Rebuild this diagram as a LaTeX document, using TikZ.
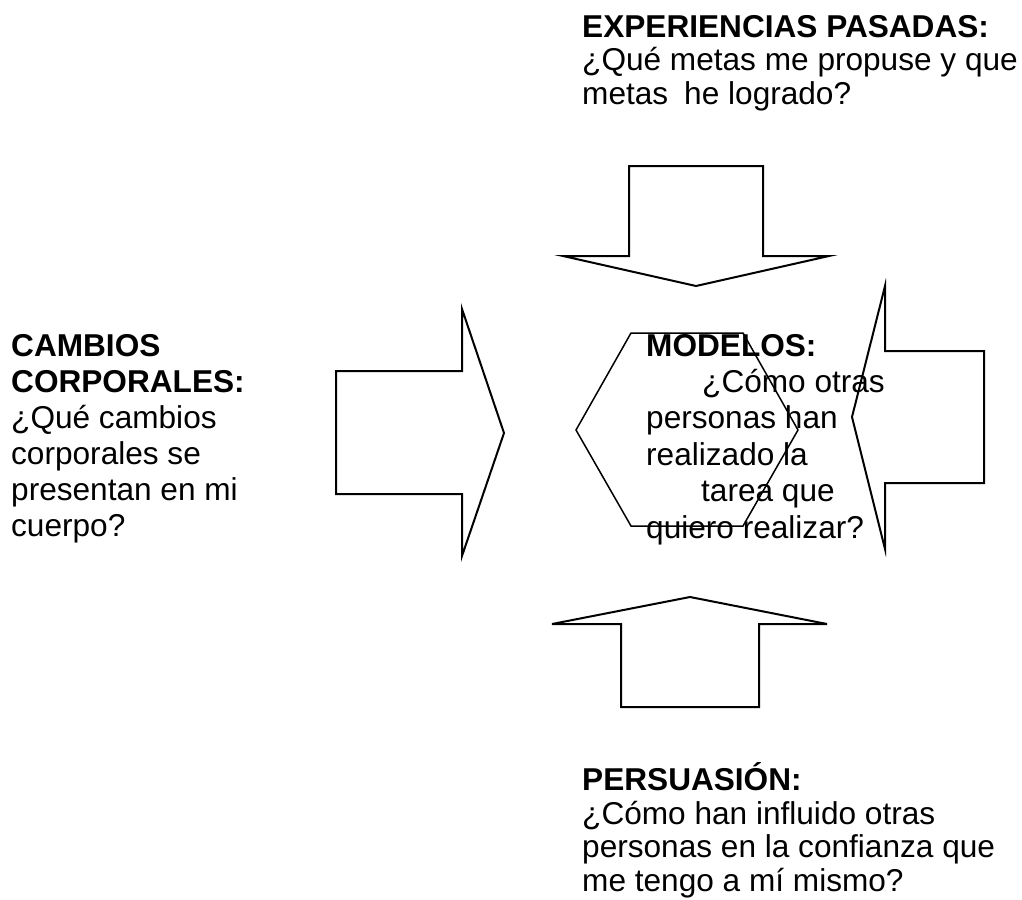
\documentclass[tikz,border=0pt]{standalone}
\usepackage{fontspec}
\setmainfont{Liberation Sans}
\usepackage{tikz}

\begin{document}
\begin{tikzpicture}[
    x=1pt, y=-1pt, % picture coordinates run like screen pixels
    flecha/.style={
        draw, % outline only
        line width=2pt,
        line join=miter
    },
    hexagono/.style={draw, line width=1.5pt},
    texto/.style={
        anchor=north west, % top-left corner of each text block
        inner sep=0pt,
        align=left
    }
]
\useasboundingbox (0,0) rectangle (1022,899);

% block arrows pointing to the middle
\draw[flecha] (629,166) -- (763,166) -- (763,256) -- (829,256) -- (696,286) -- (563,256) -- (629,256) -- cycle;
\draw[flecha] (336,371) -- (462,371) -- (462,309) -- (504,433) -- (462,556) -- (462,494) -- (336,494) -- cycle;
\draw[flecha] (984,351) -- (885,351) -- (885,286) -- (852,417) -- (885,549) -- (885,483) -- (984,483) -- cycle;
\draw[flecha] (621,707) -- (621,624) -- (552,624) -- (690,597) -- (827,624) -- (759,624) -- (759,707) -- cycle;

% hexagon in the centre
\draw[hexagono] (576,430) -- (631,333) -- (743,333) -- (798,430) -- (743,526) -- (631,526) -- cycle;

\node[texto, font=\fontsize{31.6}{33.7}\selectfont] (experiencias) at (582,13.4)
    {\strut\textbf{EXPERIENCIAS PASADAS:}\\
     ¿Qué metas me propuse y que\\
     metas\hspace{16pt}he logrado?};

\node[texto, font=\fontsize{31.6}{36}\selectfont] (cambios) at (11,330.8)
    {\strut\textbf{CAMBIOS}\\
     \textbf{CORPORALES:}\\
     ¿Qué cambios\\
     corporales se\\
     presentan en mi\\
     cuerpo?};

\node[texto, font=\fontsize{31.6}{36.4}\selectfont] (modelos) at (646,330.5)
    {\strut\textbf{MODELOS:}\\
     \hspace*{56pt}¿Cómo otras\\
     personas han\\
     realizado la\\
     \hspace*{55pt}tarea que\\
     quiero realizar?};

\node[texto, font=\fontsize{31.6}{33.7}\selectfont] (persuasion) at (582,762.1)
    {\strut\textbf{PERSUASIÓN:}\\
     ¿Cómo han influido otras\\
     personas en la confianza que\\
     me tengo a mí mismo?};
\end{tikzpicture}
\end{document}
